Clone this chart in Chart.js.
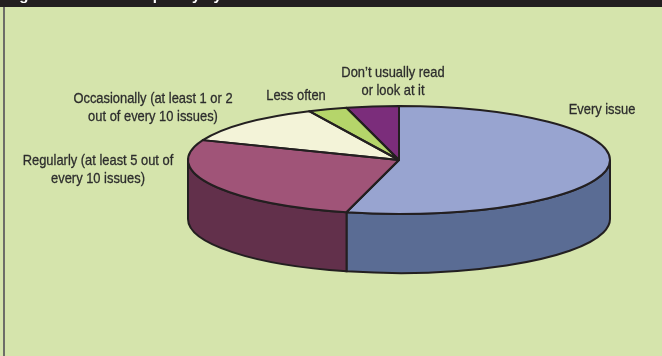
<!DOCTYPE html>
<html>
<head>
<meta charset="utf-8">
<style>
  html, body { margin: 0; padding: 0; background: #ffffff; }
  canvas { display: block; }
</style>
<script src="https://cdn.jsdelivr.net/npm/chart.js@4/dist/chart.umd.min.js"></script>
</head>
<body>
<canvas id="Chart" width="662" height="356"></canvas>
<script>
const categories = [
  "Every issue",
  "Regularly (at least 5 out of every 10 issues)",
  "Occasionally (at least 1 or 2 out of every 10 issues)",
  "Less often",
  "Don't usually read or look at it",
];
const shares = [54, 27, 12, 3, 4];
const topColors = ["#98a4d0", "#a05478", "#f3f3d8", "#b5d56a", "#7b2d7b"];
const sideColors = ["#5a6c94", "#62304b", "#b0b090", "#7f9a48", "#521d52"];

// wrapped label text and where each label sits
const labelLines = [
  ["Every issue"],
  ["Regularly (at least 5 out of", "every 10 issues)"],
  ["Occasionally (at least 1 or 2", "out of every 10 issues)"],
  ["Less often"],
  ["Don\u2019t usually read", "or look at it"],
];
const labelX = [602, 98, 153, 296, 393];
const labelY = [110, 161, 99, 96, 73];

const titleText = "Figure 1: Reader frequency by";
const lineColor = "#231f20";
const radiusX = 211;
const radiusY = 54;
const depth = 59;
// no narrow face is installed, so the text is squeezed to the same width
const textSqueeze = 0.86;

function arcsOf(chart) {
  return chart.getDatasetMeta(0).data;
}

// wall of the pie, only the part facing the viewer
function drawSides(chart) {
  const c = chart.ctx;
  arcsOf(chart).forEach((arc, i) => {
    const from = Math.max(arc.startAngle, 0);
    const to = Math.min(arc.endAngle, Math.PI);
    if (to <= from) return;
    c.beginPath();
    c.ellipse(arc.x, arc.y, radiusX, radiusY, 0, from, to);
    c.ellipse(arc.x, arc.y + depth, radiusX, radiusY, 0, to, from, true);
    c.closePath();
    c.fillStyle = sideColors[i];
    c.fill();
    c.strokeStyle = lineColor;
    c.lineWidth = 2;
    c.stroke();
  });
}

// outlines are drawn unsquashed so the pen stays the same width
function drawOutlines(chart) {
  const c = chart.ctx;
  c.strokeStyle = lineColor;
  c.lineWidth = 2;
  c.lineJoin = "round";
  arcsOf(chart).forEach((arc) => {
    c.beginPath();
    c.moveTo(arc.x, arc.y);
    c.ellipse(arc.x, arc.y, radiusX, radiusY, 0, arc.startAngle, arc.endAngle);
    c.closePath();
    c.stroke();
  });
}

const piePlugin = {
  id: "pie3d",
  beforeDraw(chart) {
    const c = chart.ctx;
    c.save();
    c.fillStyle = "#d5e4ac";
    c.fillRect(0, 0, chart.width, chart.height);
    c.fillStyle = "#6d6d68";
    c.fillRect(3, 7, 2, chart.height - 7);
    c.fillStyle = "#231f20";
    c.fillRect(0, 0, chart.width, 7);
    // only the descenders of the heading are inside the picture
    c.fillStyle = "#ffffff";
    c.font = "bold 15px 'Liberation Sans'";
    c.textAlign = "left";
    c.textBaseline = "alphabetic";
    c.fillText(titleText, 6, 0);
    c.restore();
  },
  beforeDatasetDraw(chart) {
    const c = chart.ctx;
    const first = arcsOf(chart)[0];
    drawSides(chart);
    c.save();
    c.translate(first.x, first.y);
    c.scale(1, radiusY / radiusX);
    c.translate(-first.x, -first.y);
  },
  afterDatasetDraw(chart) {
    const c = chart.ctx;
    c.restore();
    drawOutlines(chart);
    c.save();
    c.fillStyle = "#2d2d2d";
    c.strokeStyle = "#2d2d2d";
    c.lineWidth = 0.3;
    c.font = "15px 'Liberation Sans'";
    c.textAlign = "center";
    c.textBaseline = "middle";
    labelLines.forEach((lines, i) => {
      lines.forEach((line, n) => {
        const w = c.measureText(line).width * textSqueeze;
        c.fillText(line, labelX[i], labelY[i] + n * 18, w);
        c.strokeText(line, labelX[i], labelY[i] + n * 18, w);
      });
    });
    c.restore();
  },
};

new Chart(document.getElementById("Chart"), {
  type: "pie",
  data: {
    labels: categories,
    datasets: [
      {
        data: shares,
        backgroundColor: topColors,
        borderWidth: 0,
        clip: false,
      },
    ],
  },
  options: {
    responsive: false,
    animation: false,
    radius: radiusX,
    layout: { padding: { left: 136, bottom: 36 } },
    plugins: {
      legend: { display: false },
      tooltip: { enabled: false },
    },
  },
  plugins: [piePlugin],
});
</script>
</body>
</html>
